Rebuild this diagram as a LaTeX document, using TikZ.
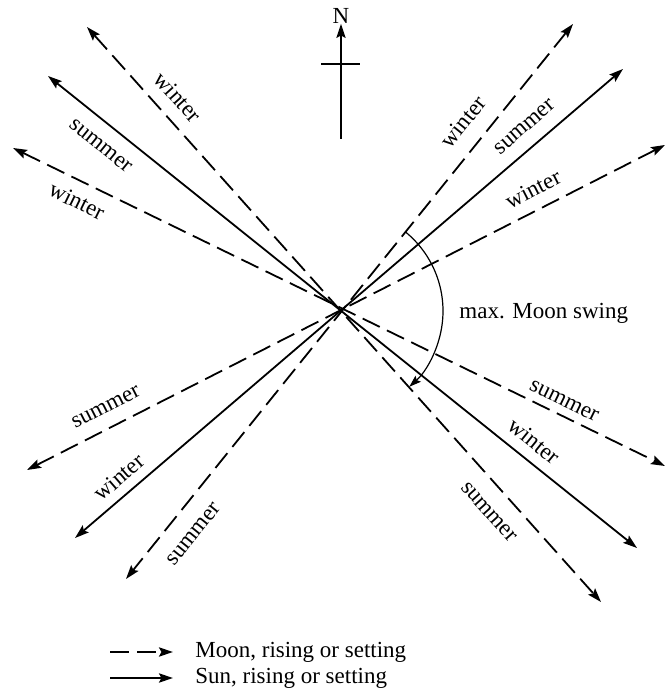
\documentclass[tikz,border=0pt]{standalone}
\usepackage{fontspec}
\setmainfont{Liberation Serif}
\usepackage{tikz}
\usetikzlibrary{calc}
\usetikzlibrary{arrows.meta}
\tikzset{tip/.style={>={Stealth[length=7pt, width=4.6pt, inset=1.2pt]}},
         moon/.style={black, line width=.9pt, dash pattern=on 9.5pt off 4pt, tip},
         sun/.style={black, line width=.9pt, tip},
         lbl/.style={font=\fontsize{11.5}{13}\selectfont, inner sep=1}}

\begin{document}
\begin{tikzpicture} [x=.5pt, y=.5pt]
\useasboundingbox (0,0) rectangle (666,697);
\coordinate (C) at (341,386);
% tips of the six directions
\coordinate (ulw) at (87,670);  \coordinate (lrs) at (601,95);
\coordinate (uls) at (48,621);  \coordinate (lrw) at (637,149);
\coordinate (ulv) at (13,549);  \coordinate (lrt) at (665,231);
\coordinate (urw) at (573,673); \coordinate (lls) at (126,118);
\coordinate (urs) at (623,628); \coordinate (llw) at (75,159);
\coordinate (urv) at (665,552); \coordinate (llt) at (27,227);
\foreach \a/\b/\s in {ulw/lrs/moon, uls/lrw/sun, ulv/lrt/moon, urw/lls/moon, urs/llw/sun, urv/llt/moon} {
 \draw[\s, <->] (\a)--(\b);
}
\node[lbl, rotate=-48] (wul1) at (178,600) {winter};
\node[lbl, rotate=-39] (sul)  at (101,551) {summer};
\node[lbl, rotate=-26] (wul2) at (77,496)  {winter};
\node[lbl, rotate=51]  (wur1) at (463,575) {winter};
\node[lbl, rotate=41]  (sur)  at (525,570) {summer};
\node[lbl, rotate=27]  (wur2) at (533,508) {winter};
\node[lbl, rotate=-26] (slr1) at (564,296) {summer};
\node[lbl, rotate=-39] (wlr)  at (534,256) {winter};
\node[lbl, rotate=-48] (slr2) at (489,185) {summer};
\node[lbl, rotate=27]  (sll1) at (106,290) {summer};
\node[lbl, rotate=41]  (wll)  at (119,220) {winter};
\node[lbl, rotate=51]  (sll2) at (194,163) {summer};
% north
\coordinate (nfoot) at (341,558);
\node[lbl, inner sep=0] (N) at (341,681) {N};
\draw[black, line width=.75pt, ->, tip] (nfoot)--(N.south);
\coordinate (cw) at (321,633); \coordinate (ce) at (360,633);
\draw[black, line width=.75pt] (cw)--(ce);
% swing of the moon
\draw[black, line width=.6pt, ->, >={Stealth[length=6pt, width=4pt, inset=1pt]}] ($(C)+(51:102)$) arc[start angle=51, end angle=-48, radius=102];
\node[lbl, anchor=west] (swing) at (457,384) {max. Moon swing};
% legend
\coordinate (m1) at (110,45); \coordinate (m2) at (173,45);
\coordinate (s1) at (110,19); \coordinate (s2) at (173,19);
\draw[moon, ->] (m1)--(m2);
\draw[sun, ->] (s1)--(s2);
\node[lbl, anchor=west] (moonkey) at (193,45) {Moon, rising or setting};
\node[lbl, anchor=west] (sunkey) at (193,19) {Sun, rising or setting};
\end{tikzpicture}
\end{document}
